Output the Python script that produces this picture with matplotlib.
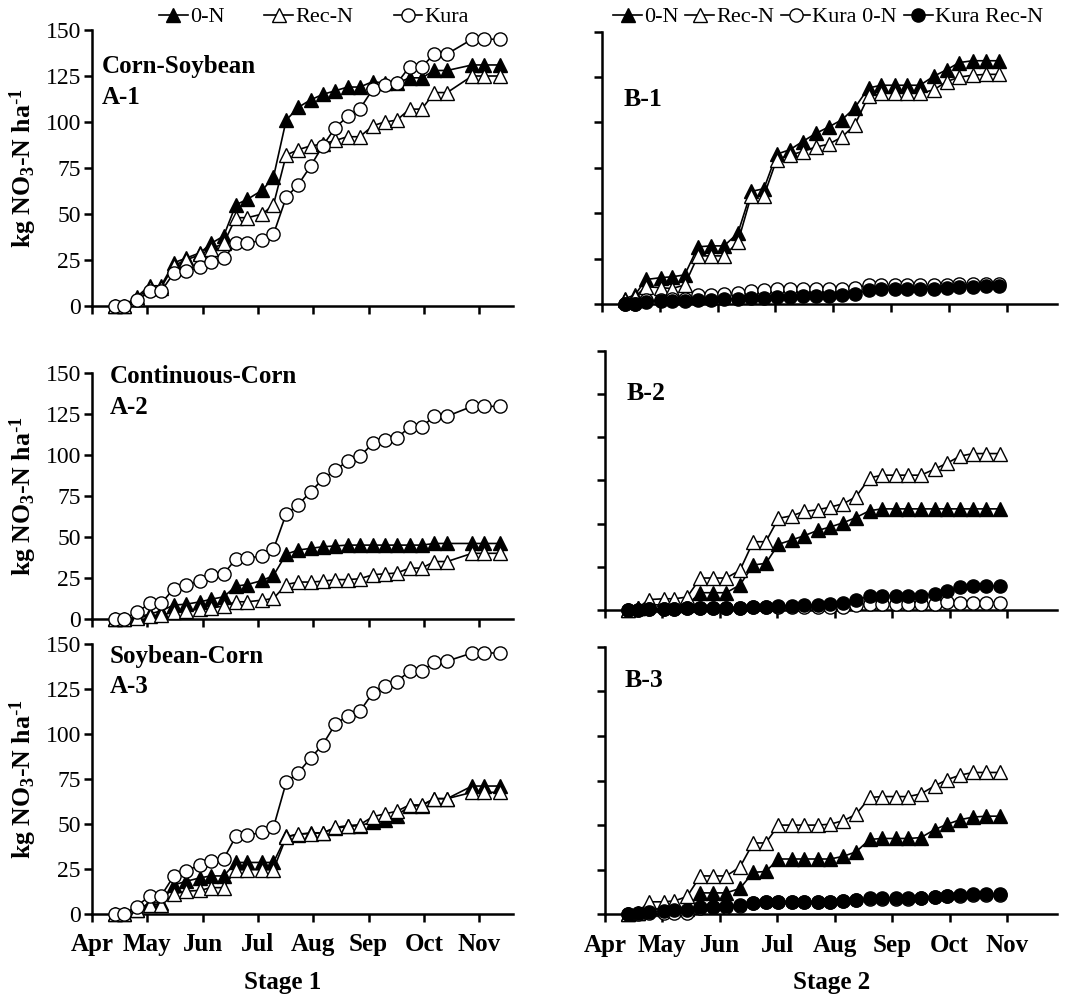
import numpy as np
import matplotlib
matplotlib.use("Agg")
import matplotlib.pyplot as plt

plt.rcParams['font.family'] = ['Liberation Serif', 'DejaVu Serif']
plt.rcParams['mathtext.default'] = 'regular'

months = ['Apr', 'May', 'Jun', 'Jul', 'Aug', 'Sep', 'Oct', 'Nov']

# sampling dates, in months after 1 April
date_s1 = [0.41, 0.57, 0.81, 1.04, 1.25, 1.48, 1.70, 1.96, 2.15, 2.38, 2.60, 2.81,
           3.08, 3.28, 3.51, 3.73, 3.95, 4.17, 4.40, 4.62, 4.84, 5.08, 5.29, 5.51,
           5.74, 5.96, 6.19, 6.42, 6.87, 7.08, 7.38]
date_s2 = [0.40, 0.57, 0.76, 1.02, 1.21, 1.43, 1.66, 1.88, 2.11, 2.35, 2.58, 2.80,
           3.02, 3.25, 3.47, 3.70, 3.92, 4.15, 4.37, 4.61, 4.83, 5.06, 5.28, 5.50,
           5.74, 5.96, 6.18, 6.41, 6.64, 6.87]

# Stage 1, cumulative NO3-N (kg/ha)
a1_0n = [0, 0, 5, 11, 11, 23.5, 26, 29, 34, 38, 55, 58, 63, 70, 101, 108, 112, 115,
         117, 119, 119, 122, 121, 121, 124, 124, 128, 128, 131, 131, 131]
a1_rec = [0, 0, 4, 10, 10, 22, 25, 28, 31, 34, 48, 48, 50, 55, 82, 85, 87, 88, 90,
          92, 92, 98, 100, 101, 107, 107, 116, 116, 125, 125, 125]
a1_kura = [0, 0, 3, 8, 8, 18, 19, 21, 24, 26, 34, 34, 36, 39, 59, 66, 76, 87, 97,
           103, 107, 118, 120, 121, 130, 130, 137, 137, 145, 145, 145]

a2_0n = [0, 0, 1, 3, 5, 8.5, 9, 10.5, 12, 13.5, 20, 21, 23.5, 26.5, 39.5, 42, 43,
         44, 44.5, 45, 45, 45, 45, 45, 45, 45, 46, 46, 46, 46, 46]
a2_rec = [0, 0, 0.5, 2, 2.5, 4, 5, 6, 6.5, 8, 10.5, 10.5, 11.5, 12.5, 21, 22.5, 22.5,
          23, 24, 24, 24.5, 27, 27.5, 28, 31, 31, 35, 35, 40, 40, 40]
a2_kura = [0, 0, 4, 9.5, 9.5, 18.5, 21, 23, 26.5, 27.5, 36.5, 37, 38.5, 42.5, 64,
           69.5, 77.5, 85, 91, 96, 99, 107, 109, 110, 117, 117, 123.5, 123.5, 129.5,
           129.5, 129.5]

a3_0n = [0, 0, 2, 6, 6, 16, 18, 20, 21, 21, 28.5, 28.5, 28.5, 28.5, 43, 44, 45, 45,
         47.5, 48.5, 49, 51, 52, 54.5, 60, 60, 64, 64, 71, 71, 71]
a3_rec = [0, 0, 2, 5, 5, 11, 12.5, 13, 14.5, 14.5, 24.5, 24.5, 24.5, 24.5, 42.5, 44.5,
          44.5, 45, 48, 49, 49.5, 54, 55.5, 57, 60.5, 60.5, 64, 64, 67.5, 67.5, 67.5]
a3_kura = [0, 0, 4, 10, 10, 21, 24, 27, 29.5, 30.5, 43, 43.5, 45.5, 48, 73, 78.5,
           86.5, 94, 105.5, 110, 112.5, 123, 126.5, 129, 135, 135, 140, 140.5, 145,
           145, 145]

# Stage 2
b1_0n = [3, 5, 13.5, 14.5, 15, 16, 31.5, 32, 32, 39, 62, 63.5, 82.5, 85, 89.5, 94,
         97.5, 101.5, 108, 119, 120.5, 120.5, 120.5, 120.5, 125.5, 129, 133, 134, 134, 134]
b1_rec = [2, 4, 9.5, 9, 8.5, 10.5, 26.5, 26.5, 26.5, 34, 59.5, 59.5, 79.5, 82, 84,
          86.5, 88, 92, 98.5, 114.5, 116, 116, 116, 116, 118, 122.5, 125, 126, 126.5, 126.5]
b1_k0n = [0, 0, 2, 2, 2.5, 3, 5, 5, 5.5, 6, 7, 7.5, 8.5, 8.5, 8.5, 8.5, 8.5, 8.5, 9,
          10.5, 10.5, 10.5, 10.5, 10.5, 10.5, 10.5, 11, 11, 11, 11]
b1_krec = [0, 0, 1, 1.5, 1.5, 1.5, 2, 2, 2.5, 3, 3.5, 3.5, 4, 4, 4.5, 4.5, 4.5, 5,
           5.5, 7.5, 8, 8, 8, 8, 8.5, 9, 9.5, 9.5, 10, 10]

b2_0n = [0, 1, 3, 3, 3, 3, 10, 10, 10, 14.5, 26, 27, 38, 40.5, 43, 46, 48, 50.5,
         53.5, 57.5, 58.5, 58.5, 58.5, 58.5, 58.5, 58.5, 58.5, 58.5, 58.5, 58.5]
b2_rec = [0, 1, 6, 6.5, 6.5, 7.5, 18.5, 18.5, 18.5, 23, 39.5, 39.5, 53, 54.5, 57, 58,
          59.5, 61.5, 65.5, 76.5, 78, 78, 78, 78, 81.5, 85, 89, 90.5, 90.5, 90.5]
b2_k0n = [0, 0, 0.5, 0.5, 0.5, 1, 1, 1, 1, 1, 1.5, 1.5, 1.5, 1.5, 1.5, 1.5, 1.5, 2,
          3, 3.5, 3.5, 3.5, 3.5, 3.5, 3.5, 4.5, 4.3, 4.3, 4.3, 4.3]
b2_krec = [0, 0, 0.5, 0.5, 0.5, 1, 1, 1, 1, 1, 2, 2, 2.5, 2.5, 3, 3, 3.5, 4, 5.5,
           8.3, 8.3, 8.3, 8.3, 8.3, 9.3, 11, 13.3, 13.8, 13.8, 13.8]

b3_0n = [0, 1, 3, 3, 3, 3, 12, 12, 12, 14.5, 23.5, 24, 31, 31, 31, 31, 31, 32.5, 35,
         42, 42.5, 42.5, 42.5, 43, 47.5, 50.5, 53, 54.5, 55, 55]
b3_rec = [0, 1, 7, 7, 7.5, 10, 21.5, 21.5, 21.5, 26.5, 40, 40, 50, 50, 50, 50, 50.5,
          52.5, 56, 65.5, 66, 66, 66, 67.5, 72, 75.5, 78, 79.5, 79.5, 79.5]
b3_k0n = [0, 0, 0.5, 0.5, 1, 1, 3.5, 4, 4, 4.8, 6.2, 6.8, 7, 7, 7, 7, 7, 7.3, 7.8,
          8.8, 8.8, 8.8, 8.8, 9, 9.6, 10, 10.5, 10.8, 10.8, 10.8]
b3_krec = [0, 1, 1.5, 2, 2.5, 2.5, 4.3, 4.3, 4.7, 5.2, 6.5, 7, 7, 7, 7, 7, 7, 7.5,
           8, 9, 9, 9, 9, 9.3, 9.9, 10.3, 10.8, 11.2, 11.2, 11.2]

W, H = 1076.0, 1001.0


def pos(left, right, top, bottom):
    # pixel box -> figure fraction
    return [left / W, 1 - bottom / H, (right - left) / W, (bottom - top) / H]


def series(ax, x, y, marker, face, label):
    ax.plot(x, y, color='black', lw=1.2, marker=marker, ms=9.5, mfc=face,
            mec='black', mew=1.0, clip_on=False, label=label, zorder=3)


def setup(ax, xmax, left_col, bottom_row):
    for s in ['top', 'right']:
        ax.spines[s].set_visible(False)
    for s in ['left', 'bottom']:
        ax.spines[s].set_linewidth(1.8)
    ax.set_xlim(0, xmax)
    ax.set_ylim(0, 150)
    ax.set_xticks(range(8))
    ax.set_yticks(range(0, 151, 25))
    ax.tick_params(direction='out', length=6, width=1.8, labelsize=17, pad=2)
    if left_col:
        ax.set_ylabel(r'kg NO$_3$-N ha$^{\text{-}1}$', fontsize=18.5, fontweight='bold')
        ax.yaxis.set_label_coords(-0.125, 0.5)
    else:
        ax.set_yticklabels([])
    if bottom_row:
        ax.set_xticklabels(months, fontsize=18, fontweight='bold')
        ax.tick_params(axis='x', pad=8)
    else:
        ax.set_xticklabels([])


fig = plt.figure(figsize=(10.76, 10.01), dpi=100)

axA1 = fig.add_axes(pos(92, 513, 30, 306))
axA2 = fig.add_axes(pos(92, 513, 372.7, 619))
axA3 = fig.add_axes(pos(92, 513, 644, 913.7))
axB1 = fig.add_axes(pos(602, 1057, 31.7, 304))
axB2 = fig.add_axes(pos(605, 1057, 350.7, 610))
axB3 = fig.add_axes(pos(605, 1057, 646.7, 914.3))

stage1 = [(axA1, a1_0n, a1_rec, a1_kura, 'Corn-Soybean', 'A-1', 0.023, 0.844, 0.732),
          (axA2, a2_0n, a2_rec, a2_kura, 'Continuous-Corn', 'A-2', 0.043, 0.957, 0.833),
          (axA3, a3_0n, a3_rec, a3_kura, 'Soybean-Corn', 'A-3', 0.043, 0.928, 0.817)]
for i, (ax, zn, rn, ku, rot, tag, tx, ty1, ty2) in enumerate(stage1):
    series(ax, date_s1, zn, '^', 'black', '0-N')
    series(ax, date_s1, rn, '^', 'white', 'Rec-N')
    series(ax, date_s1, ku, 'o', 'white', 'Kura')
    setup(ax, 7.61, True, i == 2)
    ax.text(tx, ty1, rot, transform=ax.transAxes, fontsize=18, fontweight='bold',
            va='baseline')
    ax.text(tx, ty2, tag, transform=ax.transAxes, fontsize=18, fontweight='bold',
            va='baseline')

stage2 = [(axB1, b1_0n, b1_rec, b1_k0n, b1_krec, 'B-1', 0.047, 0.727),
          (axB2, b2_0n, b2_rec, b2_k0n, b2_krec, 'B-2', 0.048, 0.81),
          (axB3, b3_0n, b3_rec, b3_k0n, b3_krec, 'B-3', 0.043, 0.848)]
for i, (ax, zn, rn, k0, kr, tag, tx, ty) in enumerate(stage2):
    series(ax, date_s2, zn, '^', 'black', '0-N')
    series(ax, date_s2, rn, '^', 'white', 'Rec-N')
    series(ax, date_s2, k0, 'o', 'white', 'Kura 0-N')
    series(ax, date_s2, kr, 'o', 'black', 'Kura Rec-N')
    setup(ax, 7.87, False, i == 2)
    ax.text(tx, ty, tag, transform=ax.transAxes, fontsize=18.5, fontweight='bold',
            va='baseline')

h1, l1 = axA1.get_legend_handles_labels()
fig.legend(h1, l1, loc='center', bbox_to_anchor=(314 / W, 1 - 17 / H), ncol=3,
           frameon=False, fontsize=16, handlelength=1.3, handletextpad=0.1,
           columnspacing=1.8, borderpad=0)
h2, l2 = axB1.get_legend_handles_labels()
fig.legend(h2, l2, loc='center', bbox_to_anchor=(828 / W, 1 - 17 / H), ncol=4,
           frameon=False, fontsize=16, handlelength=1.3, handletextpad=0.1,
           columnspacing=0.3, borderpad=0)

fig.text(283 / W, 1 - 982 / H, 'Stage 1', ha='center', va='center', fontsize=18,
         fontweight='bold')
fig.text(832 / W, 1 - 982 / H, 'Stage 2', ha='center', va='center', fontsize=18,
         fontweight='bold')

fig.savefig('out.png', dpi=100)
